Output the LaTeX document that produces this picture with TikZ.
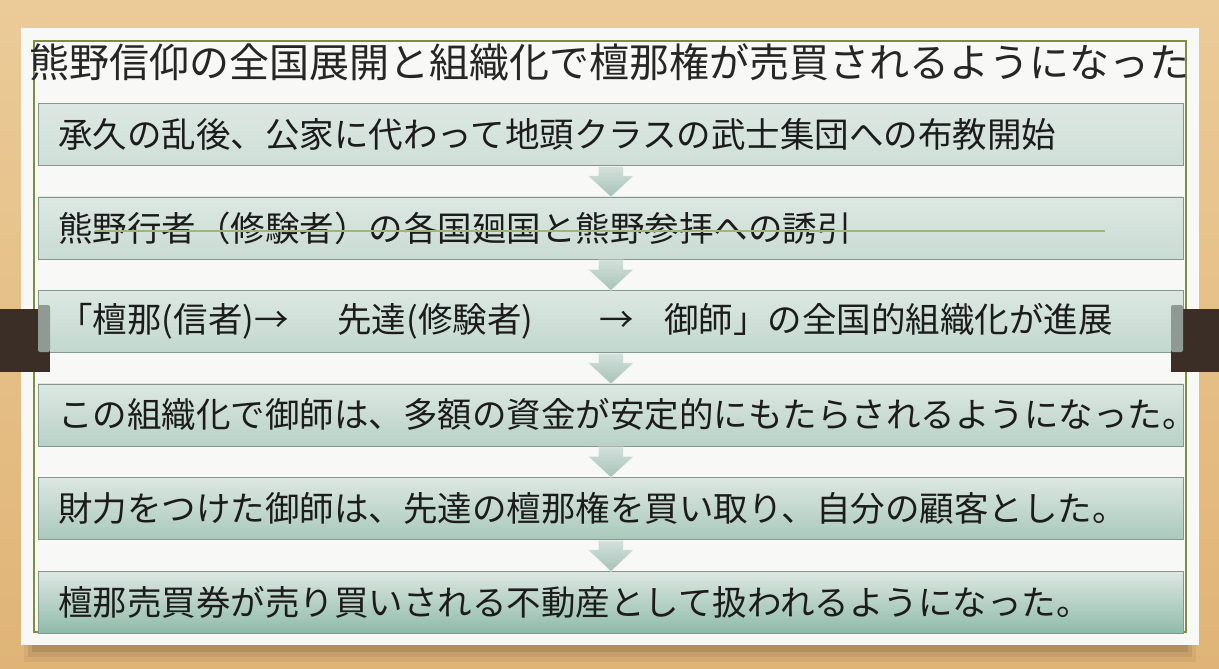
\documentclass[tikz,border=0pt]{standalone}
\usepackage{fontspec}
\newfontfamily\jp{Noto Sans CJK JP}
\definecolor{woodA}{HTML}{EBCB98}
\definecolor{woodB}{HTML}{E0B477}
\definecolor{cardwhite}{HTML}{F8F8F6}
\definecolor{olive}{HTML}{7E8E3E}
\definecolor{titlecol}{HTML}{262626}
\definecolor{boxline}{HTML}{86978F}
\definecolor{boxtop}{HTML}{DDE7E3}
\definecolor{bb1}{HTML}{CFDFD8}
\definecolor{bb2}{HTML}{CADCD4}
\definecolor{bb3}{HTML}{C2D8CE}
\definecolor{bb4}{HTML}{B8D2C6}
\definecolor{bb5}{HTML}{A9C9BB}
\definecolor{bb6}{HTML}{8FBBA8}
\definecolor{arrtop}{HTML}{D3E0DB}
\definecolor{arrbot}{HTML}{A6C3B8}
\definecolor{clipdark}{HTML}{3A2E26}
\definecolor{clipgrey}{HTML}{8E9A92}
\definecolor{greenline}{HTML}{A3B37E}
\definecolor{textcol}{HTML}{1C1C1C}
\begin{document}
\begin{tikzpicture}[x=1pt,y=-1pt,
  stepbox/.style={draw=boxline, line width=0.8pt, rectangle, anchor=north west,
    minimum width=1145pt, minimum height=62pt, inner xsep=20pt, inner ysep=0pt,
    text width=1105pt, align=left, text=textcol,
    font=\jp\fontsize{34.5}{40}\selectfont},
  downarrow/.style={top color=arrtop, bottom color=arrbot, draw=white, draw opacity=0.6, line width=0.6pt},
  titlestyle/.style={anchor=west, inner sep=0pt, text=titlecol, font=\jp\fontsize{40}{48}\selectfont}
]
\useasboundingbox (0,0) rectangle (1219,669);
% wood background
\shade[top color=woodA, bottom color=woodB] (0,0) rectangle (1219,669);
% card shadow
\fill[black, opacity=0.05] (24,640) rectangle (1196,662);
\fill[black, opacity=0.07] (28,640) rectangle (1192,657);
\fill[black, opacity=0.09] (32,640) rectangle (1188,652);
% card
\fill[cardwhite] (21,28) rectangle (1199,645);
% olive frame
\draw[olive, line width=1.4pt] (34,41) rectangle (1186,632);
% title
\node[titlestyle] (title) at (29,62) {熊野信仰の全国展開と組織化で檀那権が売買されるようになった};
% boxes
\node[stepbox, top color=boxtop, bottom color=bb1] (b1) at (38,103) {承久の乱後、公家に代わって地頭クラスの武士集団への布教開始};
\node[stepbox, top color=boxtop, bottom color=bb2] (b2) at (38,196.5) {熊野行者（修験者）の各国廻国と熊野参拝への誘引};
\node[stepbox, top color=boxtop, bottom color=bb3] (b3) at (38,290) {\makebox[279pt][l]{「檀那(信者)→}\makebox[262pt][l]{先達(修験者)}\makebox[65pt][l]{→}御師」の全国的組織化が進展};
\node[stepbox, top color=boxtop, bottom color=bb4] (b4) at (38,383.5) {この組織化で御師は、多額の資金が安定的にもたらされるようになった。};
\node[stepbox, top color=boxtop, bottom color=bb5] (b5) at (38,477) {財力をつけた御師は、先達の檀那権を買い取り、自分の顧客とした。};
\node[stepbox, top color=boxtop, bottom color=bb6] (b6) at (38,571) {檀那売買券が売り買いされる不動産として扱われるようになった。};
% arrows
\foreach \a/\b in {b1/b2,b2/b3,b3/b4,b4/b5,b5/b6}{
  \path[downarrow] ([xshift=-12.5pt,yshift=-0.5pt]\a.south) -- ([xshift=-12.5pt,yshift=-10pt]\a.south)
    -- ([xshift=-23pt,yshift=-10pt]\a.south) -- ([yshift=-0.5pt]\b.north)
    -- ([xshift=23pt,yshift=-10pt]\a.south) -- ([xshift=12.5pt,yshift=-10pt]\a.south)
    -- ([xshift=12.5pt,yshift=-0.5pt]\a.south) -- cycle;
}
% stray green line in box 2
\coordinate (gl1) at (95,231);
\coordinate (gl2) at (1105,231);
\draw[greenline, line width=1.5pt] (gl1) -- (gl2);
% clips
\fill[clipdark] (0,309) rectangle (50,372);
\fill[clipgrey, rounded corners=2pt] (38,305) rectangle (50,352);
\fill[clipdark] (1171,309) rectangle (1219,372);
\fill[clipgrey, rounded corners=2pt] (1171,305) rectangle (1183,352);
\end{tikzpicture}
\end{document}
